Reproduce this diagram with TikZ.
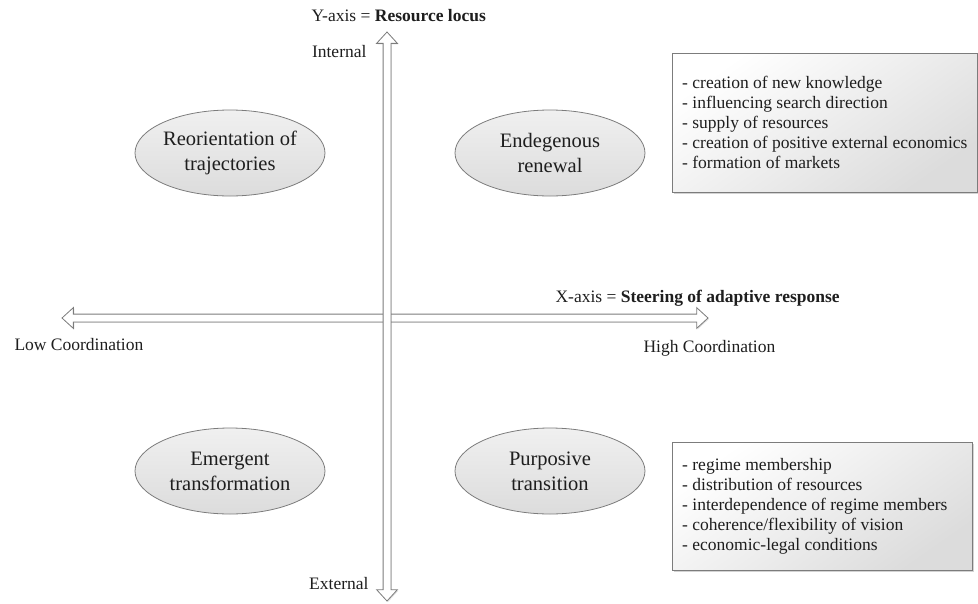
\documentclass[tikz,border=0pt]{standalone}
\usepackage{fontspec}
\setmainfont{Liberation Serif}
\usetikzlibrary{shapes.arrows,shapes.geometric,shadows}

\definecolor{ink}{HTML}{1E1E1E}
\definecolor{edge}{HTML}{7C7C7C}
\definecolor{fillA}{HTML}{F0F0F0}
\definecolor{fillB}{HTML}{DCDCDC}

\begin{document}
\begin{tikzpicture}[x=1pt,y=-1pt,
  every node/.style={text=ink, font=\fontsize{17.5}{20}\selectfont},
  axisarrow/.style={double arrow, draw=edge, fill=white, line width=0.8pt,
    inner xsep=0pt, inner ysep=3.5pt, double arrow head extend=6.5pt,
    double arrow tip angle=85,
    drop shadow={opacity=0.25, shadow xshift=1pt, shadow yshift=-1pt}},
  quad/.style={ellipse, draw=edge, line width=0.8pt, top color=fillA,
    bottom color=fillB, minimum width=190pt, minimum height=86pt,
    align=center, inner xsep=-8pt, inner ysep=0pt,
    font=\fontsize{20.5}{25}\selectfont},
  listbox/.style={draw=edge, line width=0.8pt, shading=axis,
    top color=white, bottom color=fillB, shading angle=35,
    drop shadow={opacity=0.35, shadow xshift=2pt, shadow yshift=-2pt}},
  listtext/.style={anchor=west, align=left, inner sep=0pt,
    font=\fontsize{17.5}{20}\selectfont},
  lbl/.style={anchor=base west}
]
\useasboundingbox (0,0) rectangle (978,603);

% axes: horizontal first, vertical drawn over it
\node[axisarrow, minimum height=646pt] (xaxis) at (385,318) {};
\node[axisarrow, minimum height=569pt, rotate=90] (yaxis) at (387,316.5) {};

% axis titles and end labels
\node[lbl] (ytitle) at (308,21) {Y-axis = \textbf{Resource locus}};
\node[lbl] (xtitle) at (552,302) {X-axis = \textbf{Steering of adaptive response}};
\node[anchor=base east] (internal) at (370,57) {Internal};
\node[anchor=base east] (external) at (372,589) {External};
\node[lbl] (low) at (11,350) {Low Coordination};
\node[lbl] (high) at (640,352) {High Coordination};

% the four quadrants
\node[quad] (reorient) at (230,153) {Reorientation of\\trajectories};
\node[quad] (endogen) at (550,153) {Endegenous\\renewal};
\node[quad] (emergent) at (230,471) {Emergent\\transformation};
\node[quad] (purpose) at (550,471) {Purposive\\transition};

% lists of functions and factors
\node[listbox, minimum width=305pt, minimum height=139pt] (functionsbox)
  at (824.5,122.5) {};
\node[listtext] (functions) at (682,122.5) {%
  - creation of new knowledge\\
  - influencing search direction\\
  - supply of resources\\
  - creation of positive external economics\\
  - formation of markets};
\node[listbox, minimum width=300pt, minimum height=128pt] (factorsbox)
  at (822,506) {};
\node[listtext] (factors) at (682,506.5) {%
  - regime membership\\
  - distribution of resources\\
  - interdependence of regime members\\
  - coherence/flexibility of vision\\
  - economic-legal conditions};
\end{tikzpicture}
\end{document}
